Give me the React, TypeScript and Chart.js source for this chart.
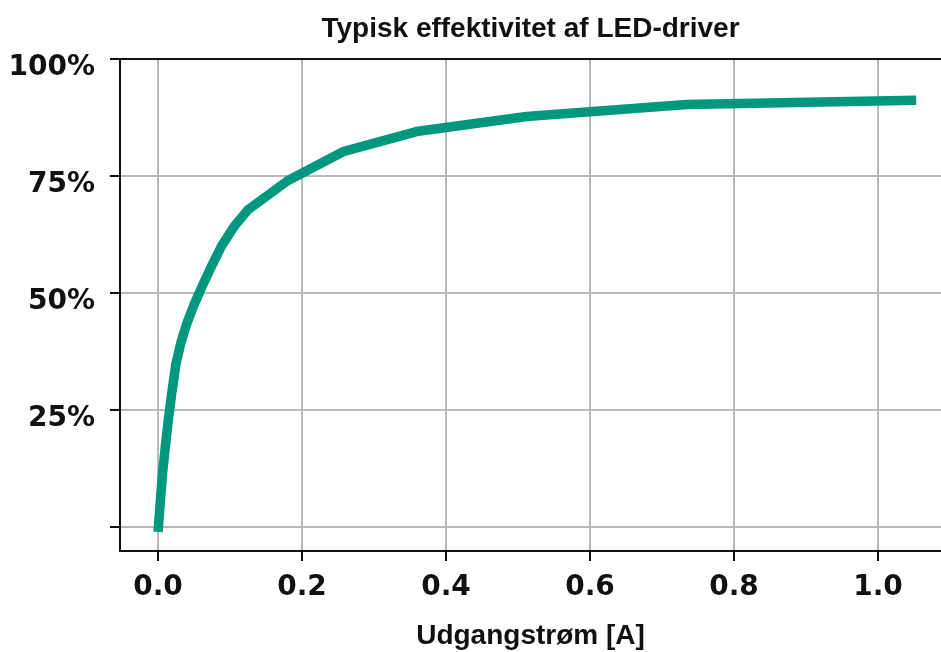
import React, { useEffect, useRef } from "react";
import { Chart, registerables } from "chart.js";

Chart.register(...registerables);

const chartTitle = "Typisk effektivitet af LED-driver";
const xAxisTitle = "Udgangstrøm [A]";
const currentA = [0, 0.003, 0.006, 0.01, 0.014, 0.019, 0.025, 0.032, 0.04, 0.05, 0.06, 0.072, 0.088, 0.107, 0.125, 0.18, 0.257, 0.359, 0.512, 0.734, 1.053];
const efficiencyPct = [-1, 5, 11, 17, 22.5, 28.5, 35, 39.5, 43.5, 47.5, 51, 55, 60, 64.5, 67.8, 74, 80.2, 84.5, 87.7, 90.3, 91.2];
const xTicks = [0, 0.2, 0.4, 0.6, 0.8, 1.0];
const yTicks = [0, 25, 50, 75, 100];

const topBorder = {
  id: "topBorder",
  afterDraw(chart: any) {
    const { ctx, chartArea } = chart;
    ctx.save();
    ctx.strokeStyle = "#111";
    ctx.lineWidth = 2;
    ctx.beginPath();
    ctx.moveTo(chartArea.left, chartArea.top);
    ctx.lineTo(chartArea.right, chartArea.top);
    ctx.stroke();
    ctx.restore();
  },
};

export default function App() {
  const ref = useRef<HTMLCanvasElement | null>(null);
  useEffect(() => {
    if (!ref.current) return;
    const chart = new Chart(ref.current, {
      type: "line",
      data: {
        datasets: [
          {
            data: currentA.map((x, i) => ({ x, y: efficiencyPct[i] })),
            borderColor: "#00977f",
            borderWidth: 9.5,
            pointRadius: 0,
            tension: 0,
            borderJoinStyle: "round",
            fill: false,
          },
        ],
      },
      options: {
        animation: false,
        responsive: false,
        devicePixelRatio: 1,
        layout: { padding: 0 },
        plugins: {
          legend: { display: false },
          tooltip: { enabled: false },
          title: {
            display: true,
            text: chartTitle,
            fullSize: false,
            color: "#111",
            font: { family: "Liberation Sans", size: 28, weight: "bold", lineHeight: 1.2 },
            padding: { top: 12, bottom: 13.4 },
          },
        },
        scales: {
          x: {
            type: "linear",
            min: -0.0528,
            max: 1.0875,
            afterBuildTicks: (s: any) => {
              s.ticks = xTicks.map((v) => ({ value: v }));
            },
            afterFit: (s: any) => {
              s.height = 101;
            },
            ticks: {
              color: "#111",
              font: { family: "DejaVu Sans", size: 28, weight: "bold" },
              padding: 10,
              maxRotation: 0,
              autoSkip: false,
              callback: (v: any) => Number(v).toFixed(1),
            },
            grid: {
              color: "#b9b9b9",
              lineWidth: 2,
              tickColor: "#111",
              tickLength: 10,
              tickWidth: 2,
            },
            border: { color: "#111", width: 2 },
            title: {
              display: true,
              text: xAxisTitle,
              color: "#111",
              font: { family: "Liberation Sans", size: 28, weight: "bold", lineHeight: 1.2 },
              padding: { top: 0, bottom: -1 },
            },
          },
          y: {
            type: "linear",
            min: -5.1,
            max: 100,
            afterBuildTicks: (s: any) => {
              s.ticks = yTicks.map((v) => ({ value: v }));
            },
            afterFit: (s: any) => {
              s.width = 120;
            },
            ticks: {
              color: "#111",
              font: { family: "DejaVu Sans", size: 28, weight: "bold", lineHeight: 0.6 },
              padding: 15,
              autoSkip: false,
              callback: (v: any) => (Number(v) === 0 ? "" : ["", `${v}%`]),
            },
            grid: {
              color: "#b9b9b9",
              lineWidth: 2,
              tickColor: "#111",
              tickLength: 10,
              tickWidth: 2,
            },
            border: { color: "#111", width: 2 },
          },
        },
      },
      plugins: [topBorder],
    });
    return () => chart.destroy();
  }, []);
  return (
    <div style={{ position: "absolute", left: 0, top: 0, width: 941, height: 652, background: "#fff" }}>
      <canvas ref={ref} width={941} height={652} style={{ display: "block" }} />
    </div>
  );
}
